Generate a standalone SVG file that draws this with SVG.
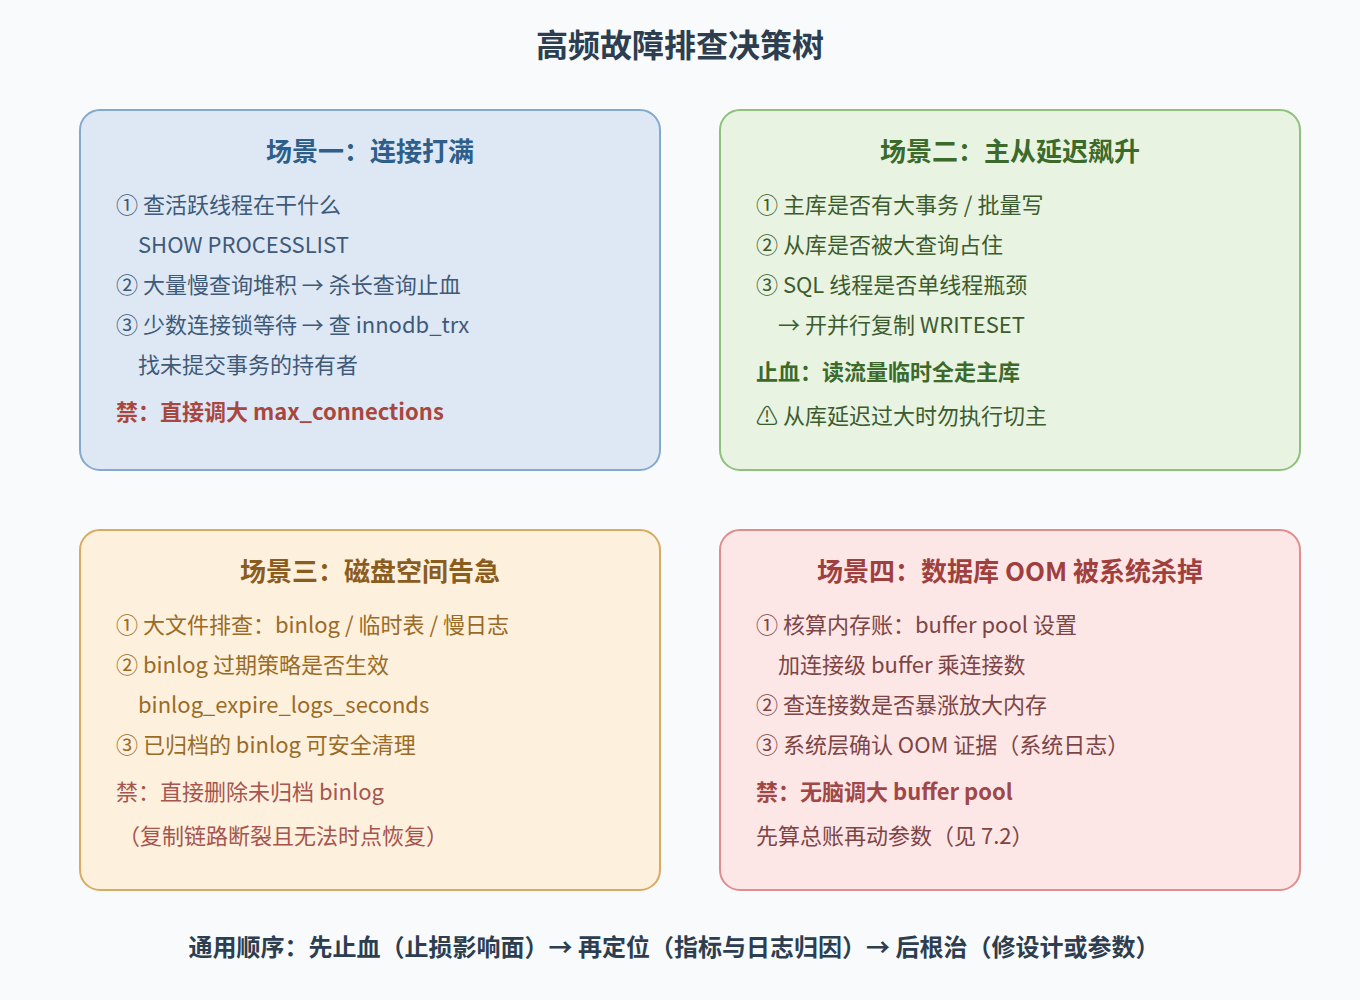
<svg xmlns="http://www.w3.org/2000/svg" width="1360" height="1000" viewBox="0 0 1360 1000">
<style>
text { font-family: "Noto Sans CJK SC", "Noto Sans", "Liberation Sans", sans-serif; }
.main { font-size: 32px; font-weight: 700; fill: #2c3e50; }
.ttl { font-size: 26px; font-weight: 700; text-anchor: middle; }
.body { font-size: 22px; }
.bold { font-size: 22px; font-weight: 700; }
.foot { font-size: 24px; font-weight: 700; fill: #2c3e50; }
.box { stroke-width: 2; }
</style>
<rect x="0" y="0" width="1360" height="1000" fill="#f8fafc"/>
<text class="main" x="680" y="57" text-anchor="middle">高频故障排查决策树</text>

<g id="scene1">
<rect class="box" x="80" y="110" width="580" height="360" rx="20" fill="#dde8f4" stroke="#85a9cc"/>
<text class="ttl" x="370" y="161" fill="#2e5f8a">场景一：连接打满</text>
<g class="body" fill="#3f5a78">
<text x="116" y="213">① 查活跃线程在干什么</text>
<text x="138" y="253">SHOW PROCESSLIST</text>
<text x="116" y="293">② 大量慢查询堆积 → 杀长查询止血</text>
<text x="116" y="333">③ 少数连接锁等待 → 查 innodb_trx</text>
<text x="138" y="373">找未提交事务的持有者</text>
</g>
<text class="bold" x="116" y="420" fill="#a8473f">禁：直接调大 max_connections</text>
</g>

<g id="scene2">
<rect class="box" x="720" y="110" width="580" height="360" rx="20" fill="#e8f3e2" stroke="#8fc07c"/>
<text class="ttl" x="1010" y="161" fill="#3b6a2a">场景二：主从延迟飙升</text>
<g class="body" fill="#3d5c2e">
<text x="756" y="213">① 主库是否有大事务 / 批量写</text>
<text x="756" y="253">② 从库是否被大查询占住</text>
<text x="756" y="293">③ SQL 线程是否单线程瓶颈</text>
<text x="778" y="333">→ 开并行复制 WRITESET</text>
</g>
<text class="bold" x="756" y="380" fill="#3b6a2a">止血：读流量临时全走主库</text>
<text class="body" x="756" y="424" fill="#3d5c2e">⚠ 从库延迟过大时勿执行切主</text>
</g>

<g id="scene3">
<rect class="box" x="80" y="530" width="580" height="360" rx="20" fill="#fdf0dd" stroke="#d9ab62"/>
<text class="ttl" x="370" y="581" fill="#8a5d1f">场景三：磁盘空间告急</text>
<g class="body" fill="#9a6b26">
<text x="116" y="633">① 大文件排查：binlog / 临时表 / 慢日志</text>
<text x="116" y="673">② binlog 过期策略是否生效</text>
<text x="138" y="713">binlog_expire_logs_seconds</text>
<text x="116" y="753">③ 已归档的 binlog 可安全清理</text>
</g>
<g class="body" fill="#a65550">
<text x="116" y="800">禁：直接删除未归档 binlog</text>
<text x="118" y="844">（复制链路断裂且无法时点恢复）</text>
</g>
</g>

<g id="scene4">
<rect class="box" x="720" y="530" width="580" height="360" rx="20" fill="#fce6e6" stroke="#de8e8e"/>
<text class="ttl" x="1010" y="581" fill="#a0403e">场景四：数据库 OOM 被系统杀掉</text>
<g class="body" fill="#7d4545">
<text x="756" y="633">① 核算内存账：buffer pool 设置</text>
<text x="778" y="673">加连接级 buffer 乘连接数</text>
<text x="756" y="713">② 查连接数是否暴涨放大内存</text>
<text x="756" y="753">③ 系统层确认 OOM 证据（系统日志）</text>
</g>
<text class="bold" x="756" y="800" fill="#a04848">禁：无脑调大 buffer pool</text>
<text class="body" x="756" y="844" fill="#7d4545">先算总账再动参数（见 7.2）</text>
</g>

<g id="connectors"></g>

<text class="foot" x="674" y="956" text-anchor="middle">通用顺序：先止血（止损影响面）→ 再定位（指标与日志归因）→ 后根治（修设计或参数）</text>
</svg>
